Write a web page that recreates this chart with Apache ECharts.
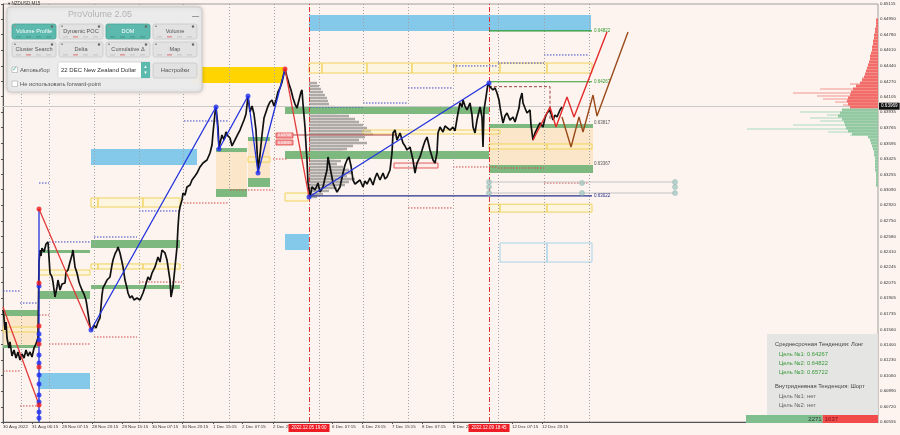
<!DOCTYPE html>
<html><head><meta charset="utf-8">
<script src="https://cdn.jsdelivr.net/npm/echarts@6/dist/echarts.min.js"></script>
<style>html,body{margin:0;padding:0;background:#fdf4ef;}#c{width:900px;height:435px;}</style>
</head><body><div id="c"></div>
<script>
// ---------- axis ticks ----------
const yTicks = [0.65115,0.64950,0.64780,0.64610,0.64440,0.64270,0.64105,0.63935,0.63765,0.63595,0.63425,0.63255,0.63090,0.62920,0.62750,0.62580,0.62410,0.62245,0.62075,0.61905,0.61735,0.61560,0.61400,0.61230,0.61060,0.60890,0.60720,0.60555];
const xTickPos = [0,29,59,89,119,149,179,210,239,270,329,359,389,419,450,509,539];
const xTickLabels = ['30 Aug 2022','31 Aug 06:15','28 Nov 07:15','28 Nov 23:15','29 Nov 15:15','30 Nov 07:15','30 Nov 23:15','1 Dec 15:15','2 Dec 07:15','2 Dec 23:15','6 Dec 07:15','6 Dec 23:15','7 Dec 15:15','8 Dec 07:15','8 Dec 23:15','12 Dec 07:15','12 Dec 23:15'];
const gridVLines = [18,46,91,136,180,226,271,316,360,405,450,495,541,586];
const sessionLines = [[306,'2022.12.05 19:00'],[486,'2022.12.09 18:45']];
const currentPrice = 0.63969;

// ---------- price (bar index, price) ----------
const price = [
[0,0.61777],[1,0.61690],[2,0.61559],[3,0.61646],[4,0.61471],[6,0.61362],[7,0.61428],[9,0.61275],[11,0.61341],[13,0.61253],[15,0.61319],[17,0.61231],[19,0.61297],[21,0.61253],[23,0.61341],[25,0.61275],[27,0.61319],[29,0.61264],[31,0.61362],[33,0.61406],[35,0.61471],
[36,0.62300],[37,0.62431],[38,0.62366],[39,0.62453],[41,0.62410],[43,0.62497],[45,0.62519],
[47,0.62180],[49,0.62137],[50,0.62082],[52,0.61919],[54,0.62028],[55,0.62104],[57,0.61995],[59,0.62060],[62,0.62071],[63,0.62191],[65,0.62213],[67,0.62300],[69,0.62377],[70,0.62431],[72,0.62246],[74,0.62180],[76,0.62082],[77,0.62050],[79,0.61995],[81,0.61951],[83,0.61886],[84,0.61820],[85,0.61744],[86,0.61668],[87,0.61591],[89,0.61559],
[91,0.61613],[93,0.61581],[95,0.61646],[97,0.61690],[99,0.61940],[100,0.62017],[102,0.62060],[104,0.62104],[107,0.62137],[109,0.62268],[110,0.62322],[112,0.62388],[114,0.62431],[115,0.62464],[117,0.62399],[119,0.62300],[120,0.62246],[122,0.62104],[124,0.62017],[125,0.61962],[127,0.61908],[129,0.61930],[131,0.61886],[134,0.61908],[137,0.61886],[140,0.61962],[142,0.62028],[145,0.62137],[147,0.62104],[149,0.62180],[152,0.62246],[155,0.62355],[157,0.62300],[159,0.62431],[162,0.62399],[164,0.62322],[165,0.62246],[167,0.62104],[168,0.61919],[170,0.62028],[172,0.62246],[174,0.62464],[175,0.62682],[176,0.62835],[177,0.62900],[179,0.62977],[180,0.63053],[182,0.63031],[184,0.63119],[187,0.63140],[189,0.63195],[192,0.63239],[194,0.63271],[197,0.63337],[200,0.63380],[202,0.63359],[204,0.63413],[207,0.63490],[209,0.63577],[210,0.63708],[212,0.63926],[213,0.63991],
[215,0.63773],[216,0.63533],[217,0.63599],[219,0.63686],[221,0.63631],[223,0.63719],[225,0.63675],[227,0.63653],[229,0.63566],[231,0.63610],[233,0.63631],[235,0.63697],[237,0.63740],[239,0.63795],[241,0.63849],[243,0.63915],[245,0.64111],[247,0.63937],[249,0.64002],[251,0.63915],[253,0.63740],[255,0.63304],[257,0.63468],[259,0.63686],[261,0.63871],[263,0.63937],[265,0.64002],[267,0.64046],[269,0.64068],[271,0.64002],[273,0.64068],[275,0.64155],[277,0.64199],[279,0.64264],[282,0.64406],
[284,0.64319],[286,0.64242],[288,0.64177],[290,0.64090],[292,0.64024],[294,0.63980],[296,0.64068],[298,0.64155],[299,0.64177],[300,0.64024],[302,0.63773],[303,0.63577],[304,0.63413],[305,0.63162],[307,0.63010],
[309,0.63119],[312,0.63086],[315,0.63162],[317,0.63064],[320,0.63119],[322,0.63217],[324,0.63304],[325,0.63446],[327,0.63337],[330,0.63162],[332,0.63108],[334,0.63064],[337,0.63119],[340,0.63271],[342,0.63359],[344,0.63413],[346,0.63446],[348,0.63348],[350,0.63195],[352,0.63151],[354,0.63162],[357,0.63195],[360,0.63119],[362,0.63184],[364,0.63151],[367,0.63217],[370,0.63140],[372,0.63217],[374,0.63271],[377,0.63195],[380,0.63271],[382,0.63206],[384,0.63228],[387,0.63304],[389,0.63490],[390,0.63708],[392,0.63740],[394,0.63631],[397,0.63708],[400,0.63599],[402,0.63566],[404,0.63522],[407,0.63555],[410,0.63413],[412,0.63271],[414,0.63380],[417,0.63446],[420,0.63555],[422,0.63620],[424,0.63664],[427,0.63522],[430,0.63413],[432,0.63380],[434,0.63490],[435,0.63708],[437,0.63773],[440,0.63719],[442,0.63784],[444,0.63773],[447,0.63740],[450,0.63773],[452,0.63730],[454,0.63740],[455,0.63926],[457,0.64035],[459,0.63991],[460,0.64068],[462,0.64002],[464,0.63959],[467,0.64035],[469,0.63904],[470,0.63773],[472,0.63708],[474,0.63849],[477,0.63991],[479,0.63882],[480,0.63555],[481,0.63959],[483,0.64100],[485,0.64253],
[487,0.64210],[490,0.64177],[492,0.64199],[494,0.64144],[496,0.64068],[497,0.63991],[499,0.63871],[500,0.63817],[502,0.63893],[504,0.63926],[507,0.63849],[510,0.63882],[512,0.63828],[514,0.63849],[516,0.63980],[517,0.64068],[519,0.64144],[520,0.64035],[522,0.63980],[524,0.63926],[527,0.63959],[528,0.63795],[530,0.63631],[532,0.63708],[534,0.63708],[537,0.63817],[540,0.63773],[542,0.63871],[544,0.63926],[547,0.63959],[550,0.63849],[552,0.63904],[554,0.63882],[557,0.63959],[559,0.63991]
];

// ---------- zigzag & projections ----------
const zigBlue = [[88,0.61559],[213,0.63991],[216,0.63533],[245,0.64111],[255,0.63271],[282,0.64406]];
const zigBlue2 = [[306,0.63010],[486,0.64253]];
const zigRed1 = [[0,0.61810],[35,0.60773]];
const zigRed2 = [[36,0.62879],[88,0.61559]];
const zigRed3 = [[282,0.64406],[306,0.63010]];
const gapLine = [[36,0.62879],[36,0.60555]];
const blueDots = [[88,0.61559],[213,0.63991],[216,0.63533],[245,0.64111],[255,0.63271],[306,0.63010],[486,0.64253],
  [36,0.62039],[36,0.61515],[36,0.61450],[36,0.61286],[36,0.61199],[36,0.61068],[36,0.60970],[36,0.60850],[36,0.60773],[36,0.60664],[36,0.60599]];
const redDots = [[282,0.64406],[36,0.62879],[36,0.62071],[36,0.61602],[36,0.61406],[36,0.61155],[36,0.60740]];
const projRed = [[530,0.63631],[547,0.63991],[553,0.63773],[564,0.64100],[571,0.63882],[604,0.64810]];
const projBrown = [[559,0.63882],[568,0.63555],[576,0.63882],[580,0.63719],[590,0.64122],[594,0.63893],[625,0.64810]];

// ---------- zones [barFrom, barTo, priceTop, priceBottom] ----------
const blueZones = [[306,588,0.64995,0.64820],[88,194,0.63533,0.63359],[282,306,0.62606,0.62431],[36,87,0.61090,0.60915]];
const goldZones = [[190,280,0.64428,0.64253]];
const orangeZones = [[0,35,0.61711,0.61395],[213,244,0.63500,0.63097],[245,267,0.63620,0.63217],[486,590,0.63762,0.63359]];
const greenZones = [[282,486,0.64002,0.63915],[282,486,0.63511,0.63424],[0,35,0.61777,0.61711],[88,177,0.62540,0.62453],[36,87,0.62431,0.62399],[36,87,0.61984,0.61897],[88,177,0.62050,0.62006],[0,35,0.61395,0.61362],[213,244,0.63097,0.63010],[213,244,0.63544,0.63500],[245,267,0.63664,0.63620],[245,267,0.63217,0.63119],[486,590,0.63806,0.63762],[486,590,0.63359,0.63271]];
const yellowBoxes = [[306,319,0.64471,0.64362],[319,364,0.64471,0.64362],[364,409,0.64471,0.64362],[409,453,0.64471,0.64362],[453,497,0.64471,0.64362],[497,544,0.64471,0.64362],[544,589,0.64471,0.64362],
  [88,95,0.62999,0.62900],[95,140,0.62999,0.62900],[140,177,0.62999,0.62900],
  [88,95,0.62279,0.62224],[95,140,0.62279,0.62224],[140,177,0.62279,0.62224],
  [36,87,0.62213,0.62158],[0,35,0.61591,0.61537],[245,267,0.63446,0.63391],[282,305,0.63053,0.62966],
  [360,497,0.63740,0.63697],[486,544,0.63588,0.63533],[544,589,0.63588,0.63533],
  [486,497,0.62931,0.62845],[497,544,0.62931,0.62845],[544,589,0.62931,0.62845]];
const skyBoxes = [[497,544,0.62508,0.62300],[544,589,0.62508,0.62300]];
const redBoxes = [[391,435,0.63380,0.63326]];
const redTags = [[273,290,0.63708,0.63653],[273,290,0.63631,0.63577]];
const redDashed = [[486,0.64213],[547,0.64213],[547,0.63849]];

// ---------- dotted period levels [barFrom, barTo, price] ----------
const blueDotted = [[0,17,0.61984],[17,35,0.61853],[36,46,0.63162],[46,88,0.62519],[91,134,0.62573],[136,177,0.62857],[181,225,0.63839],[307,360,0.63991],[360,405,0.64035],[405,450,0.64199],[450,495,0.64439],[495,541,0.64471],[541,586,0.64559]];
const redDotted = [[0,17,0.61111],[17,35,0.60730],[36,46,0.61722],[46,88,0.61406],[91,134,0.61482],[136,179,0.62082],[181,225,0.62944],[227,270,0.63086],[270,284,0.63424],[405,450,0.62890],[450,495,0.63337],[495,541,0.63326],[541,586,0.63162]];
const grayLevels = [[486,672,0.63173],[486,672,0.63053]];
const tealDots = [[486,0.63173],[486,0.63119],[486,0.63053],[579,0.63162],[579,0.63053],[672,0.63173],[672,0.63119],[672,0.63053]];
const pocLine = [[290,392,0.63686]];

// ---------- target levels ----------
const greenLevels = [[486,589,0.64822],[486,589,0.64267]];
const navyLevels = [[306,589,0.63022]];
const levelTags = [[590,0.63817],[590,0.63367]];

// ---------- volume profile [price, volume] ----------
const volProfile = [[0.64253,8],[0.64220,10],[0.64188,12],[0.64155,14],[0.64122,16],[0.64090,18],[0.64057,19],[0.64024,20],[0.63991,26],[0.63959,34],[0.63926,28],[0.63893,40],[0.63860,46],[0.63828,50],[0.63795,54],[0.63762,58],[0.63730,62],[0.63697,64],[0.63664,56],[0.63631,50],[0.63599,58],[0.63566,44],[0.63533,38],[0.63500,34],[0.63468,30],[0.63435,26],[0.63402,32],[0.63370,28],[0.63337,34],[0.63304,40],[0.63271,44],[0.63239,38],[0.63206,46],[0.63173,40],[0.63140,36],[0.63108,28],[0.63075,20],[0.63042,14],[0.63010,8]];
// ---------- DOM [price, volume] ----------
const domAsk = [[0.64940,2],[0.64908,2],[0.64875,2],[0.64842,3],[0.64810,3],[0.64777,4],[0.64744,4],[0.64711,5],[0.64679,5],[0.64646,6],[0.64613,6],[0.64580,7],[0.64548,8],[0.64515,8],[0.64482,9],[0.64450,10],[0.64417,11],[0.64384,12],[0.64351,13],[0.64319,14],[0.64286,16],[0.64253,18],[0.64220,22],[0.64188,25],[0.64155,27],[0.64122,28],[0.64090,30],[0.64057,31],[0.64024,30],[0.63991,28]];
const domAskAll = [[0.64308,16],[0.64242,28],[0.64188,58],[0.64144,85],[0.64111,61],[0.64079,55],[0.64046,43],[0.64013,35]];
const domBid = [[0.63959,36],[0.63926,38],[0.63893,40],[0.63860,36],[0.63828,34],[0.63795,33],[0.63762,32],[0.63730,30],[0.63697,26],[0.63664,10],[0.63631,8],[0.63599,7],[0.63566,6],[0.63533,5],[0.63500,4],[0.63468,4],[0.63435,3],[0.63402,3],[0.63370,3],[0.63337,3],[0.63304,3],[0.63271,2],[0.63239,2],[0.63206,2],[0.63173,2],[0.63140,2]];
const domBidAll = [[0.63937,78],[0.63904,51],[0.63871,68],[0.63839,58],[0.63795,85],[0.63751,131],[0.63719,50],[0.63686,28]];
const volBuy = 2271, volSell = 1637;

const FF = "'Liberation Sans','DejaVu Sans',sans-serif";
const XMAX = 875;

function rectSeries(data, style, z) {
  return { type:'custom', data, z, silent:true, encode:{x:[0,1], y:[2,3]},
    renderItem(params, api) {
      const a = api.coord([api.value(0), api.value(2)]);
      const b = api.coord([api.value(1), api.value(3)]);
      return { type:'rect', shape:{x:a[0], y:a[1], width:b[0]-a[0], height:b[1]-a[1]}, style:Object.assign({}, style) };
    }};
}
function segSeries(data, style, z) {
  return { type:'custom', data, z, silent:true, encode:{x:[0,1], y:2},
    renderItem(params, api) {
      const a = api.coord([api.value(0), api.value(2)]);
      const b = api.coord([api.value(1), api.value(2)]);
      return { type:'line', shape:{x1:a[0], y1:a[1], x2:b[0], y2:b[1]}, style:Object.assign({}, style) };
    }};
}
function levelSeries(data, color, width, z) {
  return { type:'custom', data, z, silent:true, encode:{x:[0,1], y:2},
    renderItem(params, api) {
      const a = api.coord([api.value(0), api.value(2)]);
      const b = api.coord([api.value(1), api.value(2)]);
      return { type:'group', children:[
        { type:'line', shape:{x1:a[0], y1:a[1], x2:b[0], y2:b[1]}, style:{stroke:color, lineWidth:width} },
        { type:'text', x:b[0]+2, y:b[1], style:{text:api.value(2).toFixed(5), fill:color, font:'4.5px '+FF, verticalAlign:'middle'} }
      ]};
    }};
}
function histSeries(data, anchor, dir, fill, h, z) {
  return { type:'custom', data, z, silent:true, encode:{y:0},
    renderItem(params, api) {
      const a = api.coord([anchor, api.value(0)]);
      const b = api.coord([anchor + dir*api.value(1), api.value(0)]);
      const x = Math.min(a[0], b[0]);
      return { type:'rect', shape:{x:x, y:a[1]-h/2, width:Math.abs(b[0]-a[0]), height:h}, style:{fill} };
    }};
}
function lineS(data, color, width, z, extra) {
  return Object.assign({ type:'line', data, showSymbol:false, silent:true, z, lineStyle:{color, width}, itemStyle:{color}, animation:false }, extra||{});
}

const series = [
  { type:'line', data:[], z:1, silent:true,
    markLine:{ silent:true, symbol:'none', animation:false, label:{show:false},
      lineStyle:{color:'#a3a3a3', type:[1,2], width:1}, data:gridVLines.map(v=>({xAxis:v})) } },
  rectSeries(orangeZones, {fill:'rgba(251,226,192,0.8)'}, 2),
  rectSeries(blueZones, {fill:'#84c9ea'}, 2),
  rectSeries(goldZones, {fill:'#ffd400'}, 2),
  histSeries(volProfile, 306, 1, 'rgba(125,125,125,0.62)', 2.4, 3),
  rectSeries(greenZones, {fill:'#7db97e'}, 3),
  rectSeries(yellowBoxes, {fill:'rgba(255,246,200,0.35)', stroke:'#f0d35c', lineWidth:1}, 4),
  rectSeries(skyBoxes, {fill:'none', stroke:'#a7d3ea', lineWidth:1}, 4),
  rectSeries(redBoxes, {fill:'rgba(255,220,220,0.3)', stroke:'#e25b5b', lineWidth:1}, 4),
  segSeries(blueDotted, {stroke:'#3a46c8', lineWidth:1, lineDash:[1.5,1.5]}, 4),
  segSeries(redDotted, {stroke:'#d04848', lineWidth:1, lineDash:[1.5,1.5]}, 4),
  segSeries(grayLevels, {stroke:'#c4c4c4', lineWidth:1}, 4),
  segSeries(pocLine, {stroke:'#b04848', lineWidth:1}, 5),
  lineS(redDashed, '#a04040', 1, 5, {lineStyle:{color:'#a04040', width:1, type:[3,2]}}),
  histSeries(domAskAll, XMAX, -1, '#f6b4b0', 1.6, 4),
  histSeries(domAsk, XMAX, -1, '#f26d6a', 3, 5),
  histSeries(domBidAll, XMAX, -1, '#c3e3cc', 1.6, 4),
  histSeries(domBid, XMAX, -1, '#93c9a2', 3, 5),
  { type:'line', data:[], z:5, silent:true,
    markLine:{ silent:true, symbol:'none', animation:false,
      lineStyle:{color:'#c9c9c9', type:'solid', width:1},
      label:{show:true, position:'end', distance:1, formatter:()=>currentPrice.toFixed(5), color:'#fff', backgroundColor:'#111', padding:[1,2], fontSize:4.6, fontFamily:FF},
      data:[{yAxis:currentPrice}] } },
  levelSeries(greenLevels, '#2f9a2f', 1.2, 6),
  levelSeries(navyLevels, '#26308c', 1.4, 6),
  { type:'custom', data:levelTags, z:6, silent:true,
    renderItem(params, api){ const a = api.coord([api.value(0), api.value(1)]);
      return {type:'text', x:a[0]+1, y:a[1], style:{text:api.value(1).toFixed(5), fill:'#555', font:'4.5px '+FF, verticalAlign:'middle'}}; } },
  { type:'custom', data:redTags, z:6, silent:true,
    renderItem(params, api){ const a = api.coord([api.value(0), api.value(2)]); const b = api.coord([api.value(1), api.value(3)]);
      return {type:'group', children:[
        {type:'rect', shape:{x:a[0], y:a[1], width:b[0]-a[0], height:b[1]-a[1]}, style:{fill:'#f4a0a0', stroke:'#e04040', lineWidth:0.8}},
        {type:'text', x:(a[0]+b[0])/2, y:(a[1]+b[1])/2, style:{text:api.value(2).toFixed(5), fill:'#fff', font:'3.6px '+FF, align:'center', verticalAlign:'middle'}}]}; } },
  lineS(price, '#111111', 1.7, 7),
  lineS(gapLine, '#2233dd', 1.3, 8),
  lineS(zigBlue, '#2233dd', 1.3, 8),
  lineS(zigBlue2, '#2233dd', 1.3, 8),
  lineS(zigRed1, '#e23a3a', 1.3, 8),
  lineS(zigRed2, '#e23a3a', 1.3, 8),
  lineS(zigRed3, '#e23a3a', 1.3, 8),
  lineS(projRed, '#e32b2b', 1.4, 8),
  lineS(projBrown, '#9a4a1a', 1.4, 8),
  { type:'scatter', data:blueDots, symbolSize:5, z:9, silent:true, itemStyle:{color:'#1f2ff0'}, animation:false },
  { type:'scatter', data:redDots, symbolSize:5, z:9, silent:true, itemStyle:{color:'#f01a1a'}, animation:false },
  { type:'scatter', data:tealDots, symbolSize:5, z:9, silent:true, itemStyle:{color:'#a9cbc7', borderColor:'#8db4af', borderWidth:0.6}, animation:false },
  { type:'line', data:[], z:20, silent:true,
    markLine:{ silent:true, symbol:'none', animation:false,
      lineStyle:{color:'#e23030', type:[5,2,1,2], width:1},
      label:{show:true, position:'start', distance:2, formatter:'{b}', color:'#fff', backgroundColor:'#ee1c24', padding:[1.5,3], fontSize:4.5, fontFamily:FF},
      data:sessionLines.map(s=>({xAxis:s[0], name:s[1]})) } },
  { type:'bar', xAxisIndex:1, yAxisIndex:1, stack:'v', data:[volBuy], barWidth:'100%', silent:true, animation:false,
    itemStyle:{color:'#7fbe8e'}, label:{show:true, position:'insideRight', distance:1, color:'#333', fontSize:6, fontFamily:FF} },
  { type:'bar', xAxisIndex:1, yAxisIndex:1, stack:'v', data:[volSell], barWidth:'100%', silent:true, animation:false,
    itemStyle:{color:'#f24b4b'}, label:{show:true, position:'insideLeft', distance:2, color:'#7a1010', fontSize:6, fontFamily:FF} }
];

// ---------- UI panel graphics ----------
const TEAL = '#5bb9ad';
const g = [];
g.push({type:'text', x:8, y:4, style:{text:'▾ NZDUSD,M15', fill:'#333', font:'4.5px '+FF, verticalAlign:'middle'}});
g.push({type:'rect', shape:{x:7, y:7, width:195, height:85, r:4}, style:{fill:'rgba(236,236,236,0.96)', stroke:'#cdcdcd', lineWidth:1, shadowBlur:4, shadowColor:'rgba(0,0,0,0.18)'}});
g.push({type:'text', x:100, y:14.5, style:{text:'ProVolume 2.05', fill:'#b3b3b3', font:'9px '+FF, align:'center', verticalAlign:'middle'}});
g.push({type:'rect', shape:{x:192, y:16, width:7, height:1}, style:{fill:'#999'}});
const buttons = [[12,24,'Volume Profile',1],[59,24,'Dynamic POC',0],[106,24,'DOM',1],[153,24,'Volume',0],[12,42,'Cluster Search',0],[59,42,'Delta',0],[106,42,'Cumulative Δ',0],[153,42,'Map',0]];
buttons.forEach(([x,y,t,on])=>{
  g.push({type:'rect', shape:{x, y, width:44, height:15, r:2}, style:{fill:on?TEAL:'#e2e2e2', stroke:on?'#4aa598':'#c9c9c9', lineWidth:0.8}});
  g.push({type:'text', x:x+22, y:y+7.5, style:{text:t, fill:on?'#ffffff':'#555', font:'5.6px '+FF, align:'center', verticalAlign:'middle'}});
  g.push({type:'circle', shape:{cx:x+40, cy:y+2.5, r:1.2}, style:{fill:'#666'}});
  g.push({type:'rect', shape:{x:x+2, y:y+1.5, width:2, height:1.5}, style:{fill:'#999'}});
  for (let k=0;k<4;k++) g.push({type:'rect', shape:{x:x+4+k*10, y:y+12.5, width:5, height:0.8}, style:{fill:on?'#3f8e84':(k===1?'#d55':'#bbb')}});
});
g.push({type:'rect', shape:{x:12, y:67, width:5.5, height:5.5}, style:{fill:'#fff', stroke:'#aaa', lineWidth:0.6}});
g.push({type:'text', x:14.7, y:69.5, style:{text:'✓', fill:TEAL, font:'bold 7px DejaVu Sans', align:'center', verticalAlign:'middle'}});
g.push({type:'text', x:20, y:70, style:{text:'Автовыбор', fill:'#555', font:'5.8px '+FF, verticalAlign:'middle'}});
g.push({type:'rect', shape:{x:58, y:62, width:92, height:16, r:1.5}, style:{fill:'#fff', stroke:'#cfcfcf', lineWidth:0.8}});
g.push({type:'text', x:61, y:70, style:{text:'22 DEC New Zealand Dollar', fill:'#333', font:'6px '+FF, verticalAlign:'middle'}});
g.push({type:'rect', shape:{x:141, y:62, width:9, height:16}, style:{fill:TEAL}});
g.push({type:'text', x:145.5, y:67, style:{text:'▴', fill:'#fff', font:'5px DejaVu Sans', align:'center', verticalAlign:'middle'}});
g.push({type:'text', x:145.5, y:73, style:{text:'▾', fill:'#fff', font:'5px DejaVu Sans', align:'center', verticalAlign:'middle'}});
g.push({type:'rect', shape:{x:153, y:63, width:44, height:15, r:2}, style:{fill:'#e2e2e2', stroke:'#c9c9c9', lineWidth:0.8}});
g.push({type:'text', x:175, y:70.5, style:{text:'Настройки', fill:'#555', font:'5.8px '+FF, align:'center', verticalAlign:'middle'}});
g.push({type:'rect', shape:{x:12, y:81, width:5.5, height:5.5}, style:{fill:'#fff', stroke:'#aaa', lineWidth:0.6}});
g.push({type:'text', x:20, y:84, style:{text:'Не использовать forward-point', fill:'#555', font:'5.8px '+FF, verticalAlign:'middle'}});
g.push({type:'rect', shape:{x:767, y:334, width:111, height:81}, style:{fill:'rgba(227,227,227,0.92)'}});
const info = [[775,344,'Среднесрочная Тенденция: Лонг','#444'],[779,354,'Цель №1: 0.64267','#3a9a3a'],[779,363,'Цель №2: 0.64822','#3a9a3a'],[779,372.5,'Цель №3: 0.65722','#3a9a3a'],[775,386.5,'Внутридневная Тенденция: Шорт','#444'],[779,396,'Цель №1: нет','#666'],[779,405,'Цель №2: нет','#666']];
info.forEach(([x,y,t,c])=>g.push({type:'text', x, y, style:{text:t, fill:c, font:'5.8px '+FF, verticalAlign:'middle'}}));

const chart = echarts.init(document.getElementById('c'), null, {renderer:'canvas'});
chart.setOption({
  animation:false,
  backgroundColor:'#fdf4ef',
  textStyle:{fontFamily:FF},
  grid:[
    {left:3, right:22, top:4, bottom:13, show:true, borderColor:'#8a8a8a', borderWidth:0.8, backgroundColor:'transparent'},
    {left:746, right:22, top:415, height:8}
  ],
  xAxis:[
    {type:'value', min:0, max:XMAX, gridIndex:0, splitLine:{show:false},
     axisLine:{show:true, onZero:false, lineStyle:{color:'#555', width:1}},
     axisTick:{show:true, length:2, customValues:xTickPos, lineStyle:{color:'#555'}},
     axisLabel:{show:true, customValues:xTickPos, formatter:(v)=>xTickLabels[xTickPos.indexOf(v)] || '', align:'left', fontSize:4.4, color:'#333', margin:3}},
    {type:'value', gridIndex:1, min:0, max:volBuy+volSell, show:false}
  ],
  yAxis:[
    {type:'value', min:0.60555, max:0.65115, position:'right', gridIndex:0, scale:true, splitLine:{show:false},
     axisLine:{show:true, lineStyle:{color:'#555', width:1}},
     axisTick:{show:true, inside:true, length:2, customValues:yTicks, lineStyle:{color:'#555'}},
     axisLabel:{show:true, customValues:yTicks, formatter:(v)=>v.toFixed(5), fontSize:4.4, color:'#333', margin:2, showMinLabel:true, showMaxLabel:true}},
    {type:'category', gridIndex:1, data:['v'], show:false}
  ],
  series,
  graphic:{elements:g.map(e=>Object.assign({z:100, silent:true}, e))}
});
</script></body></html>
